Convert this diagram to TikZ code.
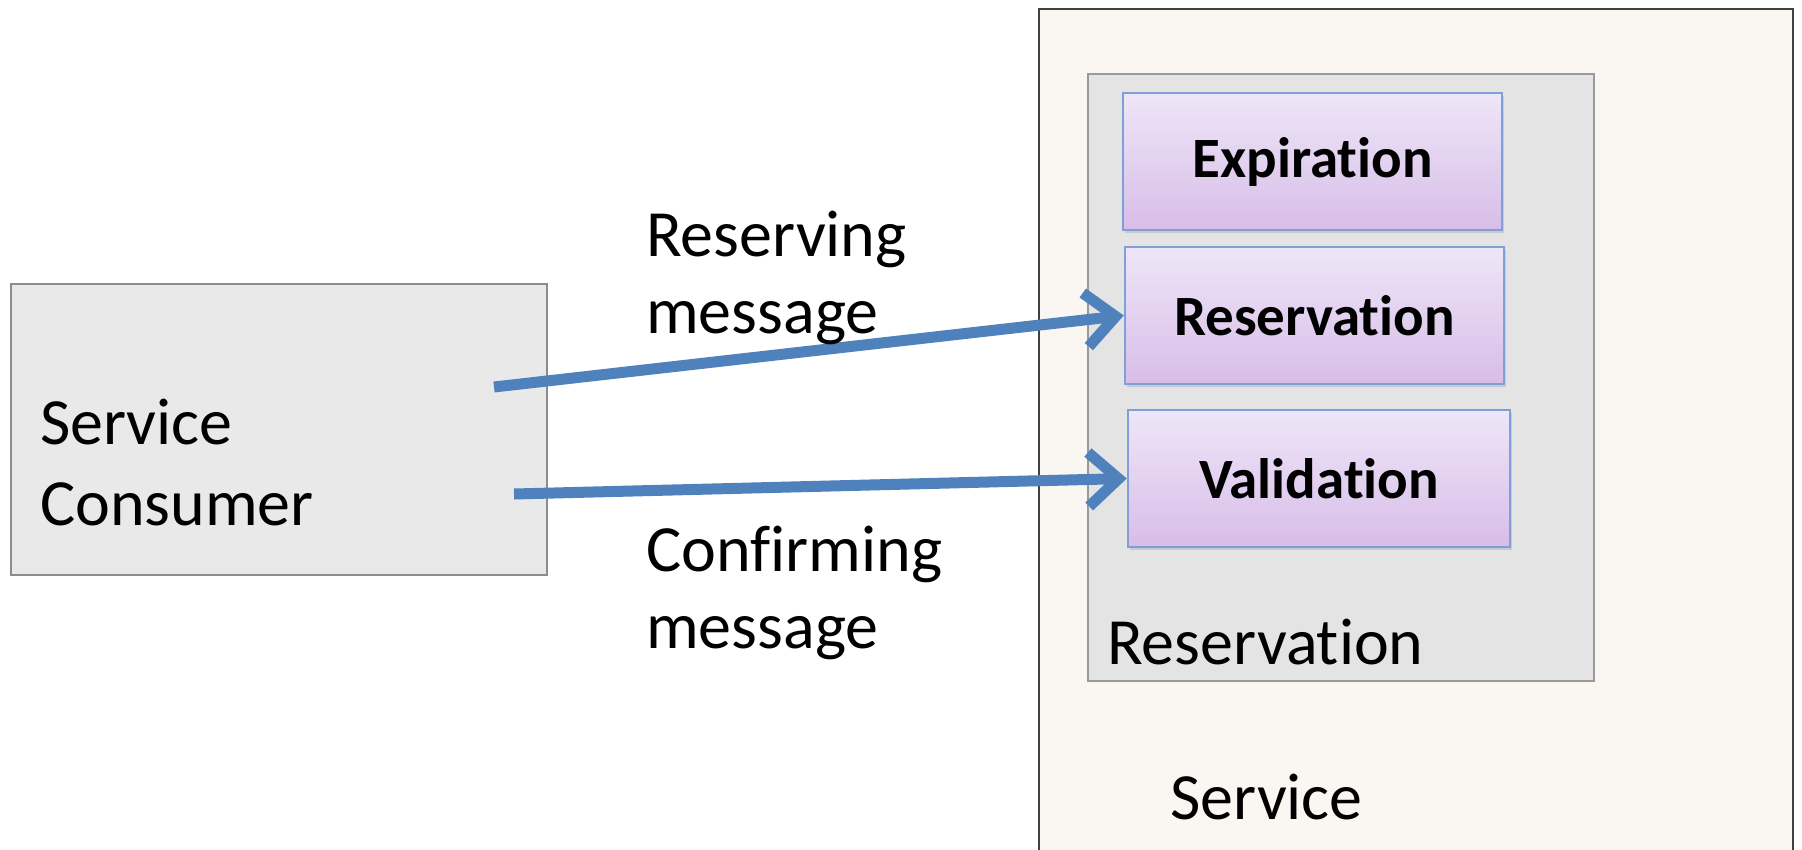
\documentclass[tikz,border=0pt]{standalone}
\usepackage{fontspec}
\setmainfont{Carlito}[Ligatures={NoCommon,NoContextual}]
\usetikzlibrary{arrows.meta,shadows}
\definecolor{arrowblue}{HTML}{4F81BD}
\definecolor{svcfill}{HTML}{FAF6F2}
\definecolor{resfill}{HTML}{E4E4E4}
\definecolor{consfill}{HTML}{E9E9E9}
\definecolor{purpletop}{HTML}{EEE6F8}
\definecolor{purplebot}{HTML}{D8BDE8}
\definecolor{purpleedge}{HTML}{7F9FD8}
\tikzset{
  outerbox/.style={draw=black!75, line width=2.5pt, fill=svcfill, inner sep=0pt},
  groupbox/.style={draw=black!40, line width=2pt, fill=resfill, inner sep=0pt},
  consbox/.style={draw=black!45, line width=2pt, fill=consfill, inner sep=0pt},
  compbox/.style={draw=purpleedge, line width=2.5pt, top color=purpletop, bottom color=purplebot,
    inner sep=0pt, font=\fontsize{57}{68}\selectfont\bfseries,
    drop shadow={opacity=0.25, shadow xshift=2pt, shadow yshift=-3pt}},
  plaintext/.style={inner sep=0pt, align=left, font=\fontsize{66}{78}\selectfont},
  msgarrow/.style={draw=arrowblue, line width=11pt,
    -{Straight Barb[length=30pt,width=54pt,line width=11pt]}},
}
\begin{document}
\begin{tikzpicture}[x=1pt,y=-1pt]
\useasboundingbox[fill=white] (0,0) rectangle (1802,849);
% Service outer box
\node[outerbox, minimum width=754pt, minimum height=850pt] (service) at (1416,434) {};
\node[plaintext, anchor=base west] (servicelbl) at (1170,819) {Service};
% Reservation group
\node[groupbox, minimum width=506pt, minimum height=607pt] (group) at (1341,377.5) {};
\node[plaintext, anchor=base west] (grouplbl) at (1107,664) {Reservation};
% Components
\node[compbox, minimum width=379pt, minimum height=137pt] (expir) at (1312.5,161.5) {Expiration};
\node[compbox, minimum width=379pt, minimum height=137pt] (resv) at (1314.5,315.5) {Reservation};
\node[compbox, minimum width=382pt, minimum height=137pt] (valid) at (1319,478.5) {Validation};
% Consumer
\node[consbox, minimum width=536pt, minimum height=291pt] (consumer) at (279,429.5) {};
\node[plaintext, anchor=base west, font=\fontsize{66}{81}\selectfont] (conslbl) at (40,525) {Service\\Consumer};
% Arrow start points
\coordinate (s1) at (494,387);
\coordinate (s2) at (514,494);
\draw[msgarrow] (s1) -- (resv.west);
\draw[msgarrow] (s2) -- (valid.west);
% Message labels
\node[plaintext, anchor=base west, font=\fontsize{66}{77}\selectfont] (reslbl) at (646,333) {Reserving\\message};
\node[plaintext, anchor=base west, font=\fontsize{66}{77}\selectfont] (conflbl) at (646,648) {Confirming\\message};
\end{tikzpicture}
\end{document}
